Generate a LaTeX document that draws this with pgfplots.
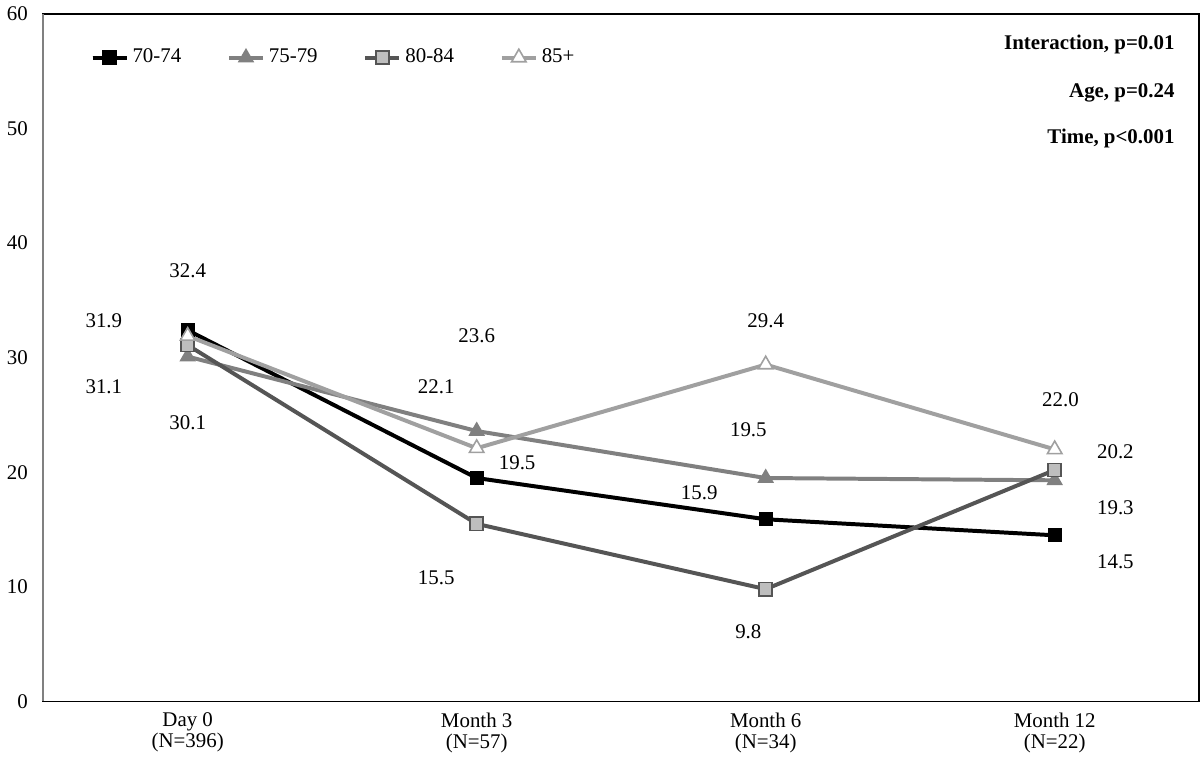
\documentclass[border=0pt]{standalone}
\usepackage{pgfplots}
\pgfplotsset{compat=1.18}
\usepackage{fontspec}
\setmainfont{Liberation Serif}
\definecolor{gmid}{RGB}{128,128,128}
\definecolor{gdark}{RGB}{85,85,85}
\definecolor{gfill}{RGB}{190,190,190}
\definecolor{glight}{RGB}{160,160,160}
\begin{document}
\fontsize{10.5}{12}\selectfont
\begin{tikzpicture}
\begin{axis}[
  scale only axis,
  width=581pt, height=345.5pt,
  xmin=-0.5, xmax=3.5,
  ymin=0, ymax=60,
  ytick={0,10,20,30,40,50,60},
  xtick={0,1,2,3},
  xticklabels={{Day 0\\(N=396)},{Month 3\\(N=57)},{Month 6\\(N=34)},{Month 12\\(N=22)}},
  xticklabel style={align=center, font=\fontsize{10.5}{10.5}\selectfont},
  yticklabel style={font=\fontsize{10.5}{12}\selectfont},
  /pgf/number format/assume math mode=true,
  major tick length=0pt,
  ytick style={draw=none}, xtick style={draw=none},
  yticklabel style={xshift=-4pt},
  xticklabel style={yshift=-2pt},
  axis line style={black, line width=0.8pt},
  clip=false,
  legend style={draw=none, fill=none, at={(axis cs:-0.358,56.2)}, anchor=west,
    font=\fontsize{10.5}{12}\selectfont, /tikz/every even column/.append style={column sep=21pt}},
  legend columns=4,
  legend image code/.code={\draw[#1] (0cm,0cm) -- (0.6cm,0cm); \draw[#1, mark repeat=2, mark phase=2] plot coordinates {(0cm,0cm) (0.3cm,0cm) (0.6cm,0cm)};},
  every axis plot/.append style={line width=2pt},
]
\addplot[color=black, mark=square*, mark size=3.3pt, mark options={solid, fill=black, line width=0.6pt}]
  coordinates {(0,32.4) (1,19.5) (2,15.9) (3,14.5)};
\addlegendentry{70-74}
\addplot[color=gmid, mark=triangle*, mark size=4.2pt, mark options={solid, fill=gmid, draw=gmid, line width=0.6pt}]
  coordinates {(0,30.1) (1,23.6) (2,19.5) (3,19.3)};
\addlegendentry{75-79}
\addplot[color=gdark, mark=square*, mark size=3.3pt, mark options={solid, fill=gfill, draw=gdark, line width=0.8pt}]
  coordinates {(0,31.1) (1,15.5) (2,9.8) (3,20.2)};
\addlegendentry{80-84}
\addplot[color=glight, mark=triangle*, mark size=4.2pt, mark options={solid, fill=white, draw=glight, line width=0.8pt}]
  coordinates {(0,31.9) (1,22.1) (2,29.4) (3,22.0)};
\addlegendentry{85+}
% left axis line is drawn in grey in the original
\draw[gray, line width=0.8pt] (rel axis cs:0,0) -- (rel axis cs:0,1);
% value labels
\node at (axis cs:0,37.6) {32.4};
\node at (axis cs:-0.29,33.2) {31.9};
\node at (axis cs:-0.29,27.5) {31.1};
\node at (axis cs:0,24.3) {30.1};
\node at (axis cs:1.0,31.9) {23.6};
\node at (axis cs:0.86,27.5) {22.1};
\node at (axis cs:1.14,20.8) {19.5};
\node at (axis cs:0.86,10.8) {15.5};
\node at (axis cs:2.0,33.2) {29.4};
\node at (axis cs:1.94,23.7) {19.5};
\node at (axis cs:1.77,18.2) {15.9};
\node at (axis cs:1.94,6.1) {9.8};
\node at (axis cs:3.02,26.3) {22.0};
\node at (axis cs:3.21,21.8) {20.2};
\node at (axis cs:3.21,16.9) {19.3};
\node at (axis cs:3.21,12.2) {14.5};
% statistics
\node[anchor=east, font=\bfseries] at (axis cs:3.44,57.3) {Interaction, p=0.01};
\node[anchor=east, font=\bfseries] at (axis cs:3.44,53.1) {Age, p=0.24};
\node[anchor=east, font=\bfseries] at (axis cs:3.44,49.1) {Time, p<0.001};
\end{axis}
\end{tikzpicture}
\end{document}
